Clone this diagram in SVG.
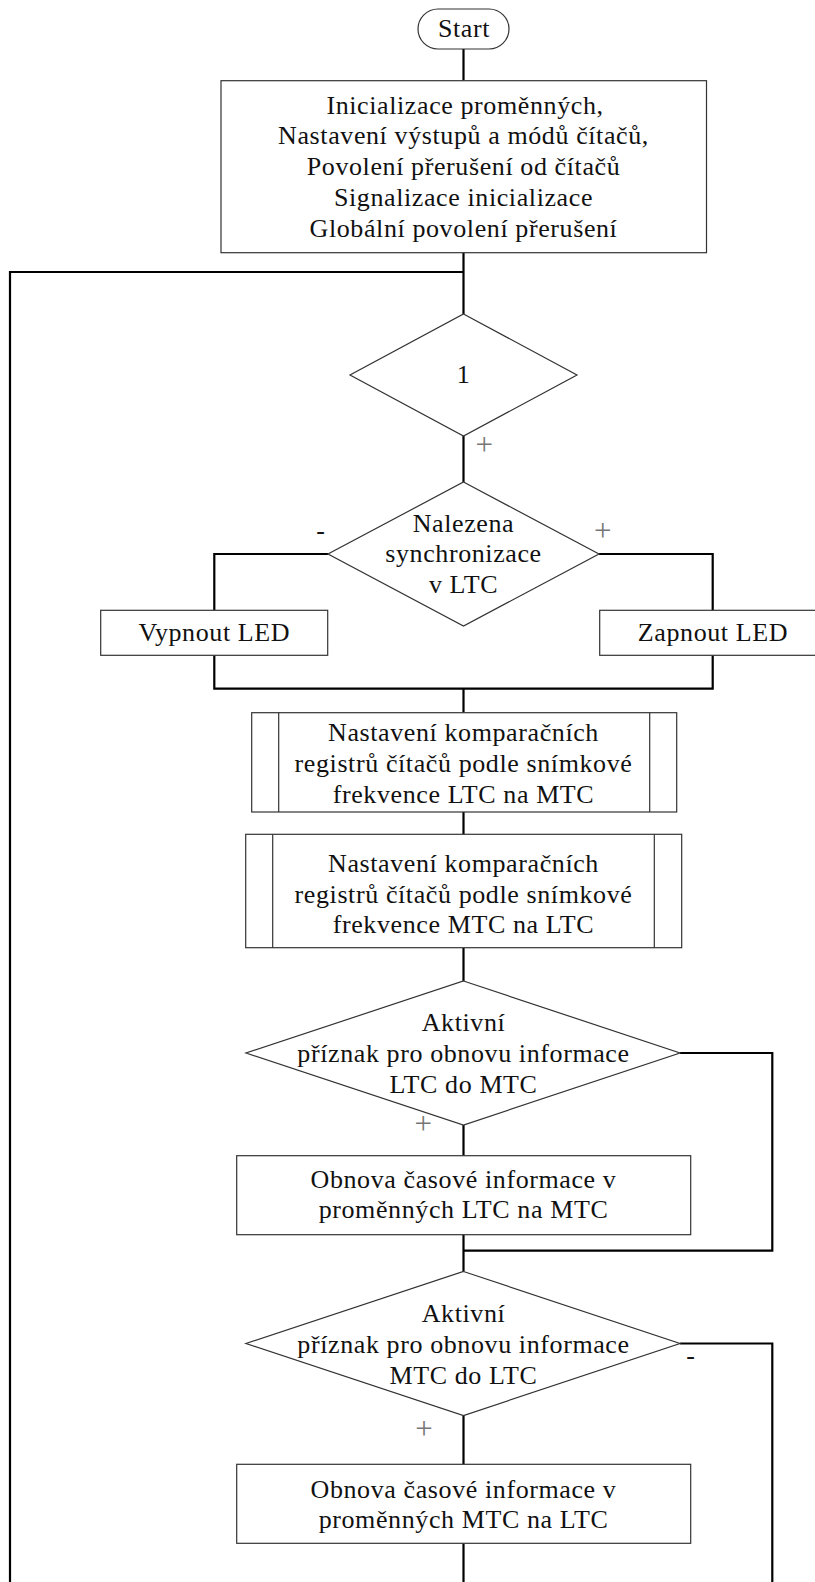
<svg xmlns="http://www.w3.org/2000/svg" width="815" height="1582" viewBox="0 0 815 1582">
<style>
.shape{fill:#fff;stroke:#333;stroke-width:1.2}
.inner{fill:none;stroke:#333;stroke-width:1.2}
.conn{fill:none;stroke:#000;stroke-width:2.2}
.t{font-family:'Liberation Serif','DejaVu Serif',serif;font-size:26px;fill:#111;text-anchor:middle;letter-spacing:0.6px}
.plus{fill:#777;font-size:31px;letter-spacing:0}
.minus{fill:#111}
</style>
<rect width="815" height="1582" fill="#fff"/>
<g id="connectors">
<path class="conn" d="M463.5 49 V80.7"/>
<path class="conn" d="M463.5 252.7 V314"/>
<path class="conn" d="M10 1582 V272 H463.5"/>
<path class="conn" d="M463.5 436 V482"/>
<path class="conn" d="M328 554 H214.3 V610.3"/>
<path class="conn" d="M599 554 H712.7 V610.3"/>
<path class="conn" d="M214.3 655.3 V688.7 H712.7 V655.3"/>
<path class="conn" d="M463.5 688.7 V712.7"/>
<path class="conn" d="M463.5 812 V834.3"/>
<path class="conn" d="M463.5 947.7 V981"/>
<path class="conn" d="M463.5 1125 V1155.7"/>
<path class="conn" d="M680 1053 H772.3 V1250.7 H463.5"/>
<path class="conn" d="M463.5 1234.7 V1271.5"/>
<path class="conn" d="M463.5 1415.5 V1464.3"/>
<path class="conn" d="M680 1343.5 H772.3 V1582"/>
<path class="conn" d="M463.5 1543.3 V1582"/>
</g>
<g font-family="Liberation Serif, DejaVu Serif, serif">
<g id="start">
<rect class="shape" x="418" y="9" width="91" height="40" rx="20" ry="20"/>
<text class="t" x="464" y="37">Start</text>
</g>
<g id="init">
<rect class="shape" x="221" y="80.7" width="485.5" height="172"/>
<text class="t" x="465" y="113.5">Inicializace proměnných,</text>
<text class="t" x="463.5" y="144">Nastavení výstupů a módů čítačů,</text>
<text class="t" x="463.5" y="175">Povolení přerušení od čítačů</text>
<text class="t" x="463.5" y="205.5">Signalizace inicializace</text>
<text class="t" x="463.5" y="236.5">Globální povolení přerušení</text>
</g>
<g id="loop-cond">
<polygon class="shape" points="463.5,314 577,375 463.5,436 350,375"/>
<text class="t" x="463.5" y="382.7">1</text>
<text class="t plus" x="484.3" y="454.5">+</text>
</g>
<g id="sync-cond">
<polygon class="shape" points="463.5,482 599,554 463.5,626 328,554"/>
<text class="t" x="463.5" y="531.7">Nalezena</text>
<text class="t" x="463.5" y="561.7">synchronizace</text>
<text class="t" x="463.5" y="592.7">v LTC</text>
<text class="t minus" x="321" y="539">-</text>
<text class="t plus" x="602.7" y="541.3">+</text>
</g>
<g id="led-off">
<rect class="shape" x="100.7" y="610.3" width="227" height="45"/>
<text class="t" x="214.3" y="641">Vypnout LED</text>
</g>
<g id="led-on">
<rect class="shape" x="599.7" y="610.3" width="227" height="45"/>
<text class="t" x="713" y="641">Zapnout LED</text>
</g>
<g id="cmp-ltc-mtc">
<rect class="shape" x="251.7" y="712.7" width="425" height="99.3"/>
<path class="inner" d="M278.7 712.7 V812 M649.7 712.7 V812"/>
<text class="t" x="463.5" y="740.5">Nastavení komparačních</text>
<text class="t" x="463.5" y="771.5">registrů čítačů podle snímkové</text>
<text class="t" x="463.5" y="802.5">frekvence LTC na MTC</text>
</g>
<g id="cmp-mtc-ltc">
<rect class="shape" x="245.7" y="834.3" width="436" height="113.4"/>
<path class="inner" d="M272.7 834.3 V947.7 M654.3 834.3 V947.7"/>
<text class="t" x="463.5" y="872">Nastavení komparačních</text>
<text class="t" x="463.5" y="902.5">registrů čítačů podle snímkové</text>
<text class="t" x="463.5" y="933">frekvence MTC na LTC</text>
</g>
<g id="flag-ltc-mtc">
<polygon class="shape" points="463.5,981 680,1053 463.5,1125 246,1053"/>
<text class="t" x="463.5" y="1031">Aktivní</text>
<text class="t" x="463.5" y="1062">příznak pro obnovu informace</text>
<text class="t" x="463.5" y="1093">LTC do MTC</text>
<text class="t plus" x="423.3" y="1134">+</text>
</g>
<g id="update-ltc-mtc">
<rect class="shape" x="236.7" y="1155.7" width="454" height="79"/>
<text class="t" x="463.5" y="1188.3">Obnova časové informace v</text>
<text class="t" x="463.5" y="1218.3">proměnných LTC na MTC</text>
</g>
<g id="flag-mtc-ltc">
<polygon class="shape" points="463.5,1271.5 680,1343.5 463.5,1415.5 246,1343.5"/>
<text class="t" x="463.5" y="1321.5">Aktivní</text>
<text class="t" x="463.5" y="1352.5">příznak pro obnovu informace</text>
<text class="t" x="463.5" y="1383.5">MTC do LTC</text>
<text class="t minus" x="691" y="1364">-</text>
<text class="t plus" x="424" y="1439">+</text>
</g>
<g id="update-mtc-ltc">
<rect class="shape" x="236.7" y="1464.3" width="454" height="79"/>
<text class="t" x="463.5" y="1498.3">Obnova časové informace v</text>
<text class="t" x="463.5" y="1528.3">proměnných MTC na LTC</text>
</g>
</g>
</svg>
